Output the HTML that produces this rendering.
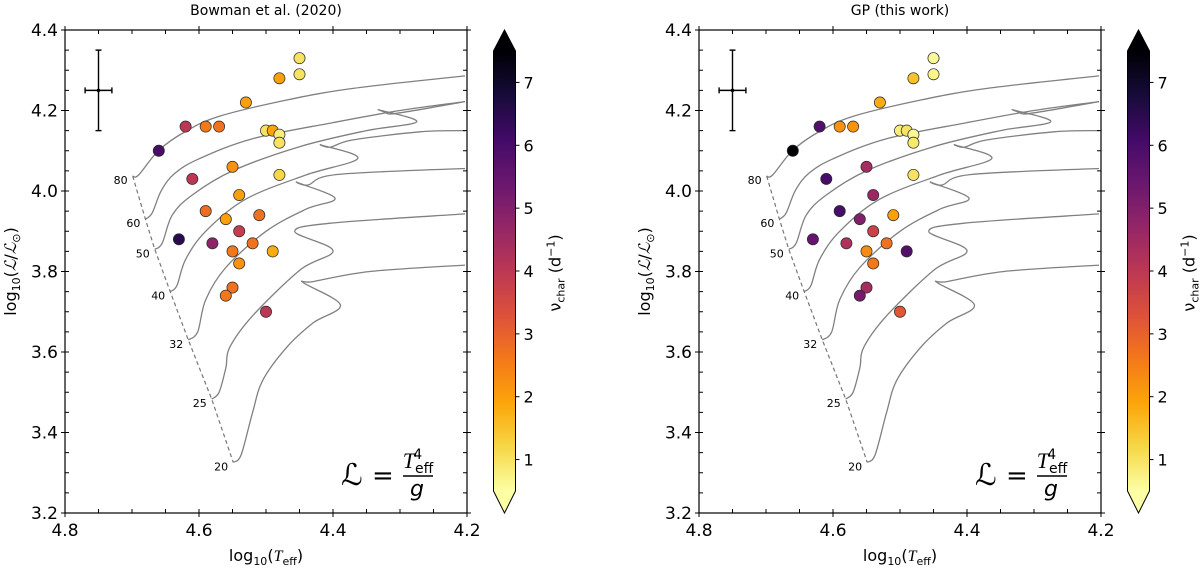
<!DOCTYPE html>
<html><head><meta charset="utf-8"><style>
body{margin:0;background:#fff;}
svg text{font-family:"DejaVu Sans","Liberation Sans",sans-serif;}
</style></head><body>
<svg id="fig" width="1200" height="570" viewBox="0 0 1200 570" xmlns="http://www.w3.org/2000/svg">
<defs>
<linearGradient id="cbgrad" x1="0" y1="1" x2="0" y2="0">
<stop offset="0" stop-color="#fcffa4"/><stop offset="0.1" stop-color="#f6d746"/><stop offset="0.2" stop-color="#fca50a"/><stop offset="0.3" stop-color="#f37819"/><stop offset="0.4" stop-color="#dd513a"/><stop offset="0.5" stop-color="#bc3754"/><stop offset="0.6" stop-color="#932667"/><stop offset="0.7" stop-color="#6a176e"/><stop offset="0.8" stop-color="#420a68"/><stop offset="0.9" stop-color="#160b39"/><stop offset="1" stop-color="#000004"/>
</linearGradient>
</defs>
</svg>
<script>
// ---- data ----
const teff = [4.66,4.62,4.59,4.57,4.53,4.48,4.45,4.45,4.50,4.49,4.48,4.48,4.48,4.55,4.61,4.54,4.59,4.56,4.51,4.54,4.63,4.58,4.52,4.55,4.49,4.54,4.55,4.56,4.50];
const lum = [4.10,4.16,4.16,4.16,4.22,4.28,4.33,4.29,4.15,4.15,4.14,4.12,4.04,4.06,4.03,3.99,3.95,3.93,3.94,3.90,3.88,3.87,3.87,3.85,3.85,3.82,3.76,3.74,3.70];
const nuBowman = [6.0,4.0,2.6,2.7,2.0,2.0,1.0,1.0,1.0,1.9,0.8,1.0,1.2,2.2,4.0,2.0,2.8,2.0,2.7,3.8,6.5,4.8,2.7,2.6,1.8,2.2,2.7,2.6,4.0];
const nuGP = [7.6,5.8,2.2,2.2,1.8,1.5,0.6,0.7,0.8,1.0,0.6,0.9,1.0,4.4,6.0,4.6,6.0,5.0,2.0,3.7,5.5,4.2,2.7,2.3,5.8,2.6,4.4,5.2,3.2];
const xTicks = [4.8,4.6,4.4,4.2];
const yTicks = [3.2,3.4,3.6,3.8,4.0,4.2,4.4];
const cbTicks = [1,2,3,4,5,6,7];
const trackMasses = ["80","60","50","40","32","25","20"];
const trackT = [
 [4.699,4.690,4.660,4.619,4.569,4.469,4.370,4.203],
 [4.680,4.670,4.656,4.636,4.600,4.520,4.400,4.300,4.203],
 [4.666,4.655,4.640,4.610,4.550,4.450,4.350,4.275,4.330,4.322,4.305,4.203],
 [4.643,4.633,4.620,4.590,4.530,4.440,4.363,4.417,4.404,4.370,4.270,4.203],
 [4.616,4.602,4.590,4.560,4.500,4.440,4.397,4.453,4.437,4.394,4.203],
 [4.581,4.570,4.560,4.554,4.520,4.449,4.400,4.457,4.404,4.203],
 [4.549,4.537,4.520,4.505,4.469,4.430,4.389,4.444,4.430,4.345,4.203]
];
const trackL = [
 [4.037,4.040,4.101,4.149,4.186,4.226,4.255,4.286],
 [3.930,3.945,4.002,4.044,4.080,4.130,4.170,4.200,4.222],
 [3.855,3.870,3.940,3.990,4.050,4.110,4.150,4.172,4.201,4.196,4.193,4.222],
 [3.750,3.765,3.830,3.900,3.980,4.040,4.081,4.114,4.109,4.127,4.147,4.150],
 [3.630,3.650,3.730,3.810,3.900,3.955,3.982,4.021,4.015,4.041,4.056],
 [3.483,3.500,3.560,3.612,3.690,3.804,3.852,3.899,3.920,3.943],
 [3.326,3.345,3.450,3.529,3.612,3.672,3.717,3.772,3.775,3.800,3.816]
];
const errT = 4.75, errL = 4.25, errDT = 0.02, errDL = 0.1;
const vMin = 0.5, vMax = 7.5;

const NS = "http://www.w3.org/2000/svg";
const svg = document.getElementById('fig');
function mk(tag, attrs, parent){ const e=document.createElementNS(NS,tag); for(const k in attrs) e.setAttribute(k,attrs[k]); (parent||svg).appendChild(e); return e; }

const stops=[[0,[0,0,4]],[0.1,[22,11,57]],[0.2,[66,10,104]],[0.3,[106,23,110]],[0.4,[147,38,103]],[0.5,[188,55,84]],[0.6,[221,81,58]],[0.7,[243,120,25]],[0.8,[252,165,10]],[0.9,[246,215,70]],[1,[252,255,164]]];
function inferno(f){ f=Math.max(0,Math.min(1,f)); for(let i=1;i<stops.length;i++){ if(f<=stops[i][0]){ const a=stops[i-1],b=stops[i]; const u=(f-a[0])/(b[0]-a[0]); const c=a[1].map((v,j)=>Math.round(v+(b[1][j]-v)*u)); return `rgb(${c.join(',')})`; } } return 'rgb(252,255,164)'; }
function colorFor(v){ return inferno((vMax-v)/(vMax-vMin)); }

function smooth(pts){
  let d = 'M'+pts[0][0].toFixed(1)+','+pts[0][1].toFixed(1);
  for(let i=0;i<pts.length-1;i++){
    const p0=pts[Math.max(0,i-1)], p1=pts[i], p2=pts[i+1], p3=pts[Math.min(pts.length-1,i+2)];
    const c1=[p1[0]+(p2[0]-p0[0])/6, p1[1]+(p2[1]-p0[1])/6];
    const c2=[p2[0]-(p3[0]-p1[0])/6, p2[1]-(p3[1]-p1[1])/6];
    d += ` C${c1[0].toFixed(1)},${c1[1].toFixed(1)} ${c2[0].toFixed(1)},${c2[1].toFixed(1)} ${p2[0].toFixed(1)},${p2[1].toFixed(1)}`;
  }
  return d;
}

function panel(x0, title, nu, pname){
  const X = t => x0 + (4.8 - t) * 670;
  const Y = l => 30 + (4.4 - l) * 402.5;
  const g = mk('g',{});
  
  
  const x1 = X(4.2), y0 = Y(4.4), y1 = Y(3.2);
  const tt = mk('text',{x:(x0+x1)/2,y:15,'text-anchor':'middle','font-size':'14'},g); tt.textContent=title;
   
  for(let k=0;k<trackT.length;k++){
    const pts = trackT[k].map((t,i)=>[X(t),Y(trackL[k][i])]);
    const p = mk('path',{d:smooth(pts),fill:'none',stroke:'#808080','stroke-width':'1.3'},g);
    
    
    const lb = mk('text',{x:X(trackT[k][0])-12,y:Y(trackL[k][0])+8,'text-anchor':'middle','font-size':'11'},g);
    lb.textContent = trackMasses[k];
    
    
  }
  const zd = trackT.map((tr,k)=>(k?'L':'M')+X(tr[0]).toFixed(1)+','+Y(trackL[k][0]).toFixed(1)).join(' ');
  const z = mk('path',{d:zd,fill:'none',stroke:'#777','stroke-width':'1.2','stroke-dasharray':'4,3'},g);
  
  
  for(let i=0;i<teff.length;i++){
    const c = mk('circle',{cx:X(teff[i]),cy:Y(lum[i]),r:5.6,fill:colorFor(nu[i]),stroke:'#2a2a2a','stroke-width':'0.7'},g);
    
    
  }
  const eb = mk('g',{stroke:'#000','stroke-width':'1.4'},g);
  
  
  mk('line',{x1:X(errT),x2:X(errT),y1:Y(errL+errDL),y2:Y(errL-errDL)},eb);
  mk('line',{x1:X(errT+errDT),x2:X(errT-errDT),y1:Y(errL),y2:Y(errL)},eb);
  mk('line',{x1:X(errT)-3,x2:X(errT)+3,y1:Y(errL+errDL),y2:Y(errL+errDL)},eb);
  mk('line',{x1:X(errT)-3,x2:X(errT)+3,y1:Y(errL-errDL),y2:Y(errL-errDL)},eb);
  mk('line',{x1:X(errT+errDT),x2:X(errT+errDT),y1:Y(errL)-3,y2:Y(errL)+3},eb);
  mk('line',{x1:X(errT-errDT),x2:X(errT-errDT),y1:Y(errL)-3,y2:Y(errL)+3},eb);
  mk('circle',{cx:X(errT),cy:Y(errL),r:1.8,fill:'#000',stroke:'none'},eb);
  const fr = mk('rect',{x:x0,y:y0,width:x1-x0,height:y1-y0,fill:'none',stroke:'#000','stroke-width':'1.2'},g);
  
  
  const tk = mk('g',{stroke:'#000','stroke-width':'1'},g);
  for(let t=4.8;t>=4.199;t-=0.05){
    const major = Math.abs(Math.round(t*5)-t*5)<0.01;
    const xx = X(t);
    if(major){ mk('line',{x1:xx,x2:xx,y1:y1-4,y2:y1+4},tk); mk('line',{x1:xx,x2:xx,y1:y0-4,y2:y0+4},tk); }
    else { mk('line',{x1:xx,x2:xx,y1:y1,y2:y1-4},tk); mk('line',{x1:xx,x2:xx,y1:y0,y2:y0+4},tk); }
  }
  for(let l=3.2;l<=4.401;l+=0.05){
    const major = Math.abs(Math.round(l*5)-l*5)<0.01;
    const yy = Y(l);
    if(major){ mk('line',{x1:x0-4,x2:x0+4,y1:yy,y2:yy},tk); mk('line',{x1:x1-4,x2:x1+4,y1:yy,y2:yy},tk); }
    else { mk('line',{x1:x0,x2:x0+4,y1:yy,y2:yy},tk); mk('line',{x1:x1,x2:x1-4,y1:yy,y2:yy},tk); }
  }
  xTicks.forEach(t=>{ const e=mk('text',{x:X(t),y:y1+23,'text-anchor':'middle','font-size':'17'},g); e.textContent=t.toFixed(1);
      });
  yTicks.forEach(l=>{ const e=mk('text',{x:x0-7,y:Y(l)+6,'text-anchor':'end','font-size':'17'},g); e.textContent=l.toFixed(1);
      });
  const xl = mk('text',{x:(x0+x1)/2,y:561,'text-anchor':'middle','font-size':'16'},g);
  xl.innerHTML = 'log<tspan font-size="11" dy="4">10</tspan><tspan dy="-4">(</tspan><tspan font-style="italic" font-family="Liberation Serif, serif">T</tspan><tspan font-size="11" dy="4">eff</tspan><tspan dy="-4">)</tspan>';
   
  const yl = mk('text',{x:0,y:0,'text-anchor':'middle','font-size':'16',transform:`translate(${x0-49},${(y0+y1)/2}) rotate(-90)`},g);
  yl.innerHTML = 'log<tspan font-size="11" dy="4">10</tspan><tspan dy="-4">(</tspan><tspan font-style="italic" font-family="Liberation Serif, serif">ℒ</tspan>/<tspan font-style="italic" font-family="Liberation Serif, serif">ℒ</tspan><tspan font-size="11" dy="4">⊙</tspan><tspan dy="-4">)</tspan>';
   
  const fg = mk('g',{},g);
   
  const L1 = mk('text',{x:x0+276,y:485,'font-size':'30','font-style':'italic','font-family':'Liberation Serif, serif'},fg); L1.textContent='ℒ';
  const eq = mk('text',{x:x0+307,y:484,'font-size':'26'},fg); eq.textContent='=';
  const num = mk('text',{x:x0+353,y:468,'text-anchor':'middle','font-size':'20'},fg);
  num.innerHTML='<tspan font-style="italic" font-family="Liberation Serif, serif" font-size="22">T</tspan><tspan font-size="14" dy="5">eff</tspan><tspan font-size="14" dx="-20" dy="-14">4</tspan>';
  mk('line',{x1:x0+338,x2:x0+368,y1:476,y2:476,stroke:'#000','stroke-width':'1.4'},fg);
  const den = mk('text',{x:x0+352,y:496,'text-anchor':'middle','font-size':'22','font-style':'italic','font-family':'Liberation Serif, serif'},fg); den.textContent='g';
  const cx = x0 + 428.5, cw = 22;
  const CY = v => 51 + (vMax - v) / (vMax - vMin) * 440;
  const cb = mk('g',{},g);
   
  mk('rect',{x:cx,y:CY(vMax),width:cw,height:CY(vMin)-CY(vMax),fill:'url(#cbgrad)'},cb);
  mk('polygon',{points:`${cx},${CY(vMax)} ${cx+cw},${CY(vMax)} ${cx+cw/2},30`,fill:'#000004'},cb);
  mk('polygon',{points:`${cx},${CY(vMin)} ${cx+cw},${CY(vMin)} ${cx+cw/2},513`,fill:'#fcffa4'},cb);
  mk('polygon',{points:`${cx},${CY(vMax)} ${cx+cw/2},30 ${cx+cw},${CY(vMax)} ${cx+cw},${CY(vMin)} ${cx+cw/2},513 ${cx},${CY(vMin)}`,fill:'none',stroke:'#000','stroke-width':'1'},cb);
  cbTicks.forEach(v=>{ mk('line',{x1:cx+cw,x2:cx+cw+4,y1:CY(v),y2:CY(v),stroke:'#000','stroke-width':'1'},cb);
    const e=mk('text',{x:cx+cw+8,y:CY(v)+6,'font-size':'16'},cb); e.textContent=v;
      });
  const cl = mk('text',{x:0,y:0,'text-anchor':'middle','font-size':'16',transform:`translate(${cx+cw+45},273) rotate(-90)`},cb);
  cl.innerHTML='ν<tspan font-size="11" dy="4">char</tspan><tspan dy="-4"> (d</tspan><tspan font-size="11" dy="-6">−1</tspan><tspan dy="6">)</tspan>';
   
}
panel(65, 'Bowman et al. (2020)', nuBowman, 'bowman-panel');
panel(699, 'GP (this work)', nuGP, 'gp-panel');
</script>
</body></html>
